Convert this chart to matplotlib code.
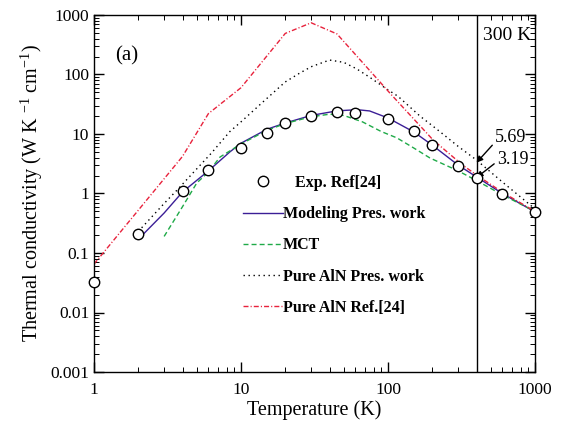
import matplotlib
matplotlib.use("Agg")
import matplotlib.pyplot as plt

plt.rcParams['font.family'] = ['Liberation Serif', 'DejaVu Serif']
plt.rcParams['mathtext.fontset'] = 'custom'
plt.rcParams['mathtext.rm'] = 'Liberation Serif'
plt.rcParams['mathtext.it'] = 'Liberation Serif:italic'
plt.rcParams['mathtext.bf'] = 'Liberation Serif:bold'

# Experimental data (circles)
T_exp = [1, 2, 4, 6, 10, 15, 20, 30, 45, 60, 100, 150, 200, 300, 400, 600, 1000]
k_exp = [0.032, 0.21, 1.1, 2.45, 5.8, 10.4, 15.3, 20, 23.4, 22.5, 17.9, 11.2, 6.5, 2.9, 1.82, 0.98, 0.49]

# Modeling, present work
T_mod = [2, 3, 4, 6, 8.4, 10, 15, 20, 30, 45, 55, 65, 75, 100, 150, 200, 300, 400, 600, 1000]
k_mod = [0.17, 0.47, 1.06, 2.4, 5.0, 7.0, 12.0, 15.3, 20.5, 24.5, 25.2, 25.3, 24.4, 18.6, 10.8, 6.5, 3.0, 1.9, 1.0, 0.49]

# MCT
T_mct = [3, 4, 5, 6, 7.2, 10, 15, 20, 30, 40, 50, 67, 90, 115, 150, 193, 300, 400, 600, 1000]
k_mct = [0.19, 0.6, 1.5, 2.3, 4.1, 6.8, 11.5, 15, 19.5, 21.5, 20.5, 16, 11, 8.6, 5.8, 3.95, 2.4, 1.65, 0.95, 0.5]

# Pure AlN, present work
T_pure = [2, 3, 3.67, 6.3, 8.4, 10, 14, 20, 25, 30, 40, 50, 61, 75, 98, 117, 165, 225, 300, 400, 600, 1000]
k_pure = [0.23, 0.68, 1.14, 4.8, 11, 16, 34, 75, 105, 135, 175, 160, 125, 90, 57, 43, 20, 11, 6.2, 3.65, 1.56, 0.55]

# Pure AlN, Ref.[24]
T_ref = [1, 4, 6, 10, 20, 30, 45, 106, 203, 322, 400, 600, 1000]
k_ref = [0.065, 4.2, 22, 60, 490, 740, 480, 45, 7.9, 3.0, 2.05, 1.05, 0.5]

purple = '#3b1e96'
green = '#1faa48'
red = '#e8223c'

fig = plt.figure(figsize=(5.64, 4.26), dpi=100)
ax = fig.add_axes([94/564, 1-372/426, 441/564, 357/426])

l_mod, = ax.plot(T_mod, k_mod, color=purple, lw=1.0, label='Modeling Pres. work')
l_mct, = ax.plot(T_mct, k_mct, color=green, lw=1.0, linestyle=(0, (3.6, 2.2)), label='MCT')
l_pure, = ax.plot(T_pure, k_pure, color='black', lw=1.0, linestyle=(0, (1, 2.6)), label='Pure AlN Pres. work')
l_ref, = ax.plot(T_ref, k_ref, color=red, lw=1.0, linestyle=(0, (3.6, 1.5, 0.8, 1.5)), label='Pure AlN Ref.[24]')
l_exp, = ax.plot(T_exp, k_exp, linestyle='none', marker='o', ms=7.5, mfc='white', mec='black',
                 mew=1.0, clip_on=False, zorder=5, label='   Exp. Ref[24]')

ax.axvline(400, color='black', lw=1.0)

ax.set_xscale('log')
ax.set_yscale('log')
ax.set_xlim(1, 1000)
ax.set_ylim(0.001, 1000)
ax.set_xticks([1, 10, 100, 1000])
ax.set_xticklabels(['1', '10', '100', '1000'])
ax.set_yticks([0.001, 0.01, 0.1, 1, 10, 100, 1000])
ax.set_yticklabels(['0.001', '0.01', '0.1', '1', '10', '100', '1000'])

ax.tick_params(which='both', direction='in', top=True, right=True, labelsize=12.5)
ax.tick_params(which='major', length=7, width=1)
ax.tick_params(which='minor', length=3.5, width=0.7)
for s in ax.spines.values():
    s.set_linewidth(1.0)
ax.tick_params(axis='x', pad=7)

ax.set_xlabel('Temperature (K)', fontsize=14.5, labelpad=2)
ax.set_ylabel('Thermal conductivity (W K $^{-1}$ cm$^{-1}$)', fontsize=14.5, labelpad=4)

ax.text(0.048, 0.885, '(a)', transform=ax.transAxes, fontsize=15, va='center', ha='left')
ax.text(444, 10**((193.5-35)/59.5), '300 K', fontsize=14, va='center', ha='left')

arrow = dict(arrowstyle='-|>', color='black', lw=1.0, mutation_scale=9, shrinkA=0, shrinkB=0)
ax.annotate('5.69', xy=(400, 3.3), xytext=(535, 8.6), fontsize=13, va='center', ha='left',
            arrowprops=dict(arrow, relpos=(0, 0.25)))
ax.annotate('3.19', xy=(400, 1.85), xytext=(551, 3.66), fontsize=13, va='center', ha='left',
            arrowprops=dict(arrow, relpos=(0, 0.4)))

leg = ax.legend(handles=[l_exp, l_mod, l_mct, l_pure, l_ref], loc='upper left',
                bbox_to_anchor=((243-94)/441, (372-175)/357), frameon=False,
                prop={'weight': 'bold', 'size': 11.5}, handlelength=2.5, handletextpad=0.0,
                borderpad=0, borderaxespad=0, labelspacing=0.95)

fig.savefig('out.png', dpi=100)
